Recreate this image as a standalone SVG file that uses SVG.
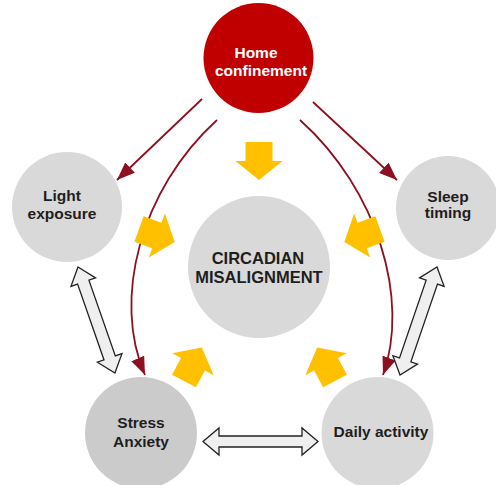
<svg xmlns="http://www.w3.org/2000/svg" width="496" height="485" viewBox="0 0 496 485">
<defs>
<style>
.node{fill:#d9d9d9}
.lbl{font-family:"Liberation Sans",Arial,sans-serif;font-weight:bold;font-size:15.5px;fill:#1e1e1e;text-anchor:middle}
.red{fill:none;stroke:#8e1020;stroke-width:1.8}
.yel{fill:#ffc000}
.dbl{fill:#efefef;stroke:#222;stroke-width:1.3;stroke-linejoin:miter}
</style>
<marker id="ah" markerUnits="userSpaceOnUse" markerWidth="18" markerHeight="14" refX="18" refY="7" orient="auto">
<path d="M0,0 L18,7 L0,14 z" fill="#8e1020"/>
</marker>
<path id="yarrow" d="M0,-13.5 L19,-13.5 L19,-23.5 L38,0 L19,23.5 L19,13.5 L0,13.5 z"/>
</defs>
<rect width="496" height="485" fill="#fff"/>

<g id="connectors">
<path class="red" d="M202,99 L117,180" marker-end="url(#ah)"/>
<path class="red" d="M313,102 L397,180" marker-end="url(#ah)"/>
<path class="red" d="M217,120 C140,190 112,300 145,375" marker-end="url(#ah)"/>
<path class="red" d="M300,120 C378,190 410,300 383,375" marker-end="url(#ah)"/>
<use href="#yarrow" class="yel" transform="translate(259,142) rotate(90)"/>
<use href="#yarrow" class="yel" transform="translate(139,229) rotate(20)"/>
<use href="#yarrow" class="yel" transform="translate(380,229) rotate(160)"/>
<use href="#yarrow" class="yel" transform="translate(184,381) rotate(-62)"/>
<use href="#yarrow" class="yel" transform="translate(335,381) rotate(-118)"/>
<path class="dbl" transform="translate(78,267) rotate(70.8)" d="M0,0 L16,-13 L16,-6 L96.3,-6 L96.3,-13 L112.3,0 L96.3,13 L96.3,6 L16,6 L16,13 z"/>
<path class="dbl" transform="translate(437,267) rotate(108.9)" d="M0,0 L16,-13 L16,-6 L98.2,-6 L98.2,-13 L114.2,0 L98.2,13 L98.2,6 L16,6 L16,13 z"/>
<path class="dbl" transform="translate(203,441.5)" d="M0,0 L16,-13.5 L16,-5.5 L99,-5.5 L99,-13.5 L115,0 L99,13.5 L99,5.5 L16,5.5 L16,13.5 z"/>
</g>

<g id="home">
<circle cx="258.5" cy="58" r="55" fill="#c00000"/>
<text class="lbl" x="256" y="58" style="fill:#fff">Home</text>
<text class="lbl" x="261" y="76" style="fill:#fff">confinement</text>
</g>
<g id="light">
<circle class="node" cx="67" cy="207" r="55"/>
<text class="lbl" x="62" y="201">Light</text>
<text class="lbl" x="62" y="219">exposure</text>
</g>
<g id="sleep">
<circle class="node" cx="448" cy="208" r="52"/>
<text class="lbl" x="448" y="202">Sleep</text>
<text class="lbl" x="448" y="218">timing</text>
</g>
<g id="circadian">
<circle class="node" cx="259" cy="267" r="71"/>
<text class="lbl" x="258" y="264" style="font-size:16.5px">CIRCADIAN</text>
<text class="lbl" x="259" y="283" style="font-size:16.5px">MISALIGNMENT</text>
</g>
<g id="stress">
<circle class="node" cx="141" cy="433" r="56" style="fill:#cbcbcb"/>
<text class="lbl" x="141" y="428">Stress</text>
<text class="lbl" x="141" y="447">Anxiety</text>
</g>
<g id="daily">
<circle class="node" cx="377.5" cy="433" r="56"/>
<text class="lbl" x="381" y="437">Daily activity</text>
</g>
</svg>
